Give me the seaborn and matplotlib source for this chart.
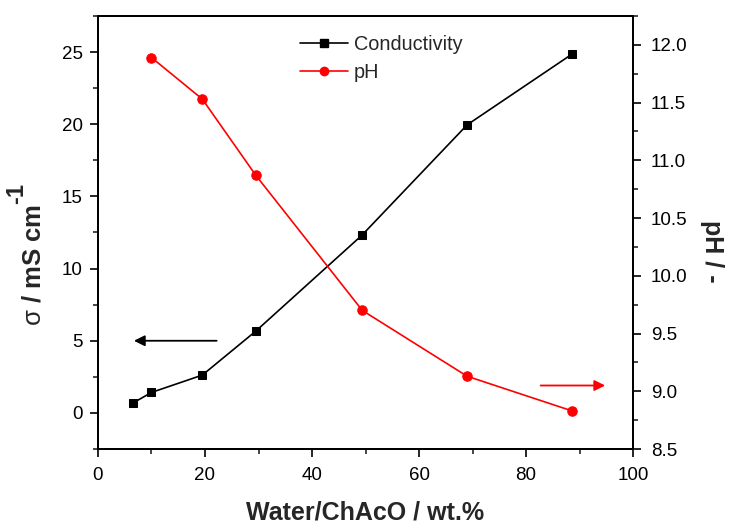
import matplotlib
matplotlib.use("Agg")
import matplotlib.pyplot as plt
import seaborn as sns
import pandas as pd
from matplotlib.ticker import MultipleLocator, FormatStrFormatter
from matplotlib.lines import Line2D

sns.set_style("ticks")
plt.rcParams['font.family'] = ['Liberation Sans', 'DejaVu Sans']
plt.rcParams['mathtext.fontset'] = 'custom'
plt.rcParams['mathtext.rm'] = 'Liberation Sans'
plt.rcParams['mathtext.bf'] = 'Liberation Sans:bold'

# Data
water_cond = [6.6, 10.0, 19.5, 29.5, 49.3, 69.0, 88.6]
conductivity = [0.7, 1.42, 2.62, 5.67, 12.3, 19.96, 24.86]
water_ph = [10.0, 19.5, 29.5, 49.4, 69.0, 88.6]
ph_values = [11.89, 11.53, 10.87, 9.70, 9.13, 8.83]

x_label = "Water/ChAcO / wt.%"
y_left_label = r"$\mathrm{\sigma}$ / mS cm"
y_left_sup = "-1"
y_right_label = "pH / -"

df_c = pd.DataFrame({"x": water_cond, "y": conductivity})
df_p = pd.DataFrame({"x": water_ph, "y": ph_values})

fig = plt.figure(figsize=(7.29, 5.24), dpi=100)
ax = fig.add_axes([0.1344, 0.1431, 0.7340, 0.8264])
ax2 = ax.twinx()

sns.lineplot(data=df_c, x="x", y="y", ax=ax, color="black", marker="s",
             markersize=6, markeredgecolor="black", linewidth=1.2, legend=False)
sns.lineplot(data=df_p, x="x", y="y", ax=ax2, color="red", marker="o",
             markersize=6.8, markeredgecolor="red", linewidth=1.2, legend=False)

ax.set_xlim(0, 100)
ax.set_ylim(-2.5, 27.5)
ax2.set_ylim(8.5, 12.25)

ax.xaxis.set_major_locator(MultipleLocator(20))
ax.xaxis.set_minor_locator(MultipleLocator(10))
ax.yaxis.set_major_locator(MultipleLocator(5))
ax.yaxis.set_minor_locator(MultipleLocator(2.5))
ax2.yaxis.set_major_locator(MultipleLocator(0.5))
ax2.yaxis.set_minor_locator(MultipleLocator(0.25))
ax.set_yticks([0, 5, 10, 15, 20, 25])
ax2.yaxis.set_major_formatter(FormatStrFormatter('%.1f'))

for a in (ax, ax2):
    a.tick_params(which='major', direction='out', length=6, width=1.2, labelsize=13.5, colors='black')
    a.tick_params(which='minor', direction='out', length=3.5, width=1.2)
    for s in a.spines.values():
        s.set_linewidth(1.4)
        s.set_color('black')
ax.tick_params(axis='y', pad=5)
ax2.tick_params(axis='y', pad=7)
ax.tick_params(axis='x', pad=7)

ax.set_xlabel(x_label, fontsize=18, fontweight='bold', labelpad=12)
ax.set_ylabel(y_left_label, fontsize=18.5, fontweight='bold', labelpad=12)
ax.yaxis.label.set_y(0.425)
ax.annotate(y_left_sup, xy=(0.0, 1.0), xycoords=ax.yaxis.label,
            xytext=(5, 0), textcoords='offset points', rotation=90,
            ha='right', va='bottom', fontsize=17, fontweight='bold')
ax2.set_ylabel(y_right_label, fontsize=18, fontweight='bold', labelpad=9,
               rotation=270, va='bottom')
ax2.yaxis.label.set_y(0.456)

# arrows
ax.annotate("", xy=(6.2, 5), xytext=(22.7, 5),
            arrowprops=dict(arrowstyle="-|>", color="black", lw=1.3, mutation_scale=16))
ax2.annotate("", xy=(95.3, 9.05), xytext=(82.2, 9.05),
             arrowprops=dict(arrowstyle="-|>", color="red", lw=1.3, mutation_scale=16))

handles = [Line2D([], [], color='black', marker='s', markersize=5.5, lw=1.2),
           Line2D([], [], color='red', marker='o', markersize=6, lw=1.2)]
leg = ax.legend(handles, ["Conductivity", "pH"], loc='upper left',
                bbox_to_anchor=(0.345, 0.997), frameon=False, fontsize=14.3,
                handlelength=2.4, handletextpad=0.3, labelspacing=0.45)

fig.savefig("out.png", dpi=100)
